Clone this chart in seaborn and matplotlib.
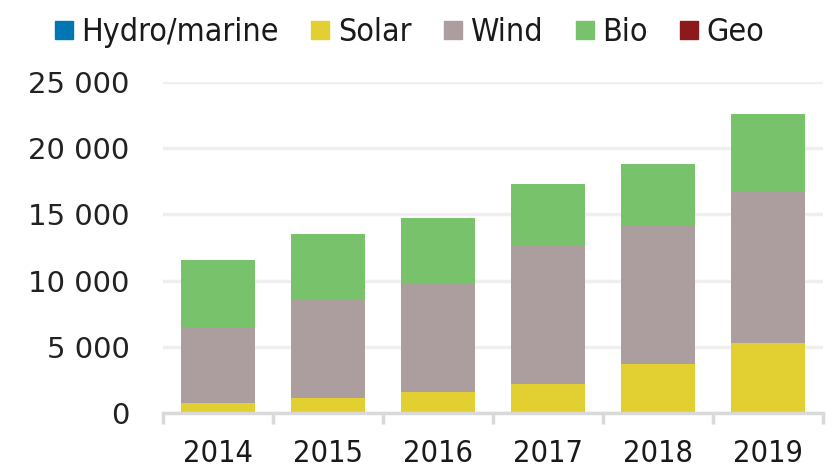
import numpy as np
import pandas as pd
import matplotlib
matplotlib.use("Agg")
import matplotlib.pyplot as plt
import seaborn as sns
from matplotlib.lines import Line2D

# Datos (GWh aprox.)
years = ["2014", "2015", "2016", "2017", "2018", "2019"]
hydro = [0, 0, 0, 0, 0, 0]
solar = [750, 1100, 1575, 2175, 3675, 5325]
wind = [5750, 7525, 8175, 10550, 10525, 11450]
bio = [5030, 4900, 4950, 4600, 4575, 5800]
geo = [0, 0, 0, 0, 0, 0]

series = ["Hydro/marine", "Solar", "Wind", "Bio", "Geo"]
colors = ["#0077b3", "#e2cf31", "#ac9d9f", "#77c26b", "#8c1a1a"]
yticks = [0, 5000, 10000, 15000, 20000, 25000]
ytick_labels = ["0", "5 000", "10 000", "15 000", "20 000", "25 000"]

df = pd.DataFrame({"year": years, "Hydro/marine": hydro, "Solar": solar,
                   "Wind": wind, "Bio": bio, "Geo": geo})

sns.set_theme(style="white")
plt.rcParams["font.family"] = ["DejaVu Sans"]
plt.rcParams["font.stretch"] = "condensed"

fig = plt.figure(figsize=(8.32, 4.71), dpi=100)
ax = fig.add_axes([0.196, 0.123, 0.793, 0.703])

# barras apiladas: se dibuja del total hacia abajo
cum = df[series].cumsum(axis=1)
for s, c in reversed(list(zip(series, colors))):
    sns.barplot(x=df["year"], y=cum[s], color=c, width=0.67, ax=ax,
                saturation=1, edgecolor=c, linewidth=0)

ax.set_ylim(0, 25000)
ax.set_xlim(-0.5, 5.5)
ax.set_yticks(yticks)
ax.set_yticklabels(ytick_labels, fontstretch="normal", fontsize=21, color="#222222")
ax.grid(axis="y", color="#efefef", linewidth=2.5, zorder=0)
ax.set_axisbelow(True)

for side in ["left", "right", "top"]:
    ax.spines[side].set_visible(False)
ax.spines["bottom"].set_color("#d9d9d9")
ax.spines["bottom"].set_linewidth(2.5)

ax.set_xticks(np.arange(-0.5, 6, 1), minor=True)
ax.tick_params(axis="x", which="minor", bottom=True, length=8, width=2.5,
               color="#d9d9d9", direction="out")
ax.tick_params(axis="x", which="major", bottom=False, length=0, pad=19,
               labelsize=22, labelcolor="#1a1a1a")
ax.tick_params(axis="y", length=0, pad=24)
ax.set_xlabel("")
ax.set_ylabel("")

handles = [Line2D([0], [0], marker="s", linestyle="", markersize=13,
                  markerfacecolor=c, markeredgecolor=c) for c in colors]
fig.legend(handles, series, loc="center", bbox_to_anchor=(0.49, 0.93), ncol=5,
           frameon=False, fontsize=23, handletextpad=0.15, columnspacing=0.9,
           handlelength=0.8, labelcolor="#1a1a1a")

fig.savefig("out.png", dpi=100)
